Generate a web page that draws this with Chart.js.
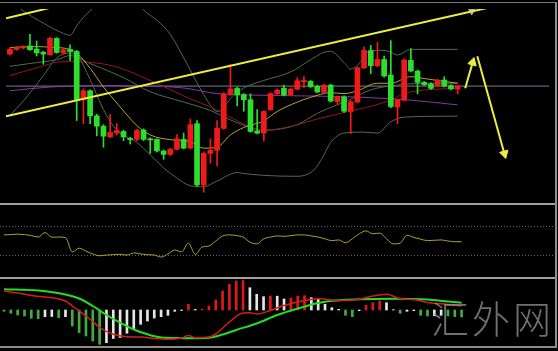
<!DOCTYPE html>
<html>
<head>
<meta charset="utf-8">
<script src="https://cdn.jsdelivr.net/npm/chart.js@4.4.1/dist/chart.umd.min.js"></script>
<style>
  body { margin: 0; background: #000; width: 558px; height: 351px; overflow: hidden; position: relative; }
  .pane { position: absolute; left: 0; width: 555px; }
  .rule { position: absolute; background: #a0a0a0; }
  #mark { position: absolute; left: 431px; top: 298px; font-size: 38px; line-height: 1;
          font-family: "Noto Sans CJK SC", sans-serif; font-weight: 300; color: rgba(160,160,160,0.7); letter-spacing: 3px; }
</style>
</head>
<body>
<div class="pane" style="top:3px;height:200px"><canvas id="priceChart"></canvas></div>
<div class="pane" style="top:205px;height:72px"><canvas id="rsiChart"></canvas></div>
<div class="pane" style="top:279px;height:67px"><canvas id="macdChart"></canvas></div>

<div class="rule" style="left:0;top:2px;width:556px;height:1px;background:#7a7a7a"></div>
<div class="rule" style="left:0;top:203px;width:556px;height:2px"></div>
<div class="rule" style="left:0;top:277px;width:556px;height:2px"></div>
<div class="rule" style="left:0;top:346px;width:556px;height:2px;background:#8c8c8c"></div>
<div class="rule" style="left:555px;top:2px;width:2px;height:346px;background:#8c8c8c"></div>
<div id="mark">汇外网</div>

<script>
// candles (one per bar, left to right)
const opens = [1249, 1254, 1255.5, 1257.7, 1254.3, 1251, 1248.3, 1265.7, 1250.3, 1254,
  1251.7, 1201, 1210, 1183.3, 1172.3, 1161, 1165, 1166.7, 1159.3, 1158.3,
  1168.3, 1159, 1158.3, 1146, 1142.3, 1147.7, 1158.3, 1149, 1175, 1110,
  1143.3, 1146.7, 1170, 1206.5, 1212.5, 1206, 1200.5, 1167.3, 1165, 1190,
  1206.7, 1212.7, 1205.8, 1211.7, 1219.5, 1220, 1214.8, 1208.5, 1216, 1198.3,
  1203.3, 1188, 1198, 1234.5, 1252.7, 1236.7, 1243.3, 1226.7, 1192.7, 1200,
  1242.3, 1231, 1219, 1217.3, 1215.5, 1221.5, 1215.5, 1211.7];
const closes = [1254.3, 1255.7, 1257, 1253.7, 1250.3, 1249, 1265.7, 1250.7, 1253.7, 1251.7,
  1200, 1210, 1183.3, 1172.3, 1161.7, 1165.7, 1167.7, 1161, 1158, 1167.7,
  1158.3, 1157.7, 1146, 1142.3, 1147.7, 1159, 1149, 1174, 1110, 1143.3,
  1146.7, 1170, 1206.7, 1212, 1205.5, 1200.5, 1166.7, 1165, 1188, 1207,
  1210.7, 1205.5, 1211.7, 1220.7, 1221, 1214.3, 1208.7, 1216, 1199, 1203.3,
  1188.3, 1198.3, 1234.5, 1253, 1236.7, 1243.3, 1225.7, 1193.3, 1200, 1242.7,
  1231, 1219, 1216.5, 1212.5, 1221.3, 1215, 1212, 1215];
const highs = [1256, 1257, 1258, 1270, 1263, 1252, 1267, 1266.5, 1255, 1259,
  1253, 1212, 1211, 1185, 1174, 1185, 1175, 1168, 1160.5, 1169,
  1169.5, 1160, 1159, 1147, 1149, 1163.3, 1165, 1180, 1178.3, 1145,
  1159, 1178.3, 1208, 1238, 1214, 1207, 1206.7, 1190, 1189, 1208,
  1212, 1216, 1213, 1224, 1225, 1221, 1216, 1217, 1217, 1204.5,
  1204.5, 1199.5, 1235.5, 1256.7, 1258.3, 1261.7, 1247, 1263.3, 1201, 1244,
  1255, 1232, 1220, 1218.5, 1222.5, 1225, 1216.5, 1216];
const lows = [1248, 1253, 1254.5, 1253, 1247, 1238.3, 1248, 1250, 1249, 1242,
  1178.3, 1175, 1175, 1162, 1150, 1160, 1163, 1157, 1153.3, 1157,
  1157, 1143.3, 1145, 1137, 1141, 1147, 1148, 1148, 1108.3, 1102,
  1133, 1130, 1169, 1205, 1194, 1188.3, 1166, 1164, 1156.7, 1189,
  1206, 1204.5, 1205, 1211, 1213.3, 1213.5, 1208, 1207.5, 1198, 1196,
  1187, 1164.5, 1197, 1233.5, 1228.3, 1235.5, 1224.5, 1192, 1175, 1199,
  1230, 1206.7, 1215.5, 1211.5, 1214.5, 1214, 1211, 1206.7];

// indicator lines as [bar, value]
const bbUpper = [[0, 1306], [2, 1295], [5, 1282], [8, 1271], [9, 1269], [10, 1279], [11, 1288], [13, 1302],
  [16, 1325], [19, 1305], [20, 1296], [22, 1285], [24, 1270], [26, 1245], [27, 1232], [29, 1206], [31, 1188],
  [32, 1192], [33, 1202], [35, 1213], [38, 1221], [42, 1230], [45, 1243], [47, 1251], [48, 1252], [50, 1240],
  [51, 1233], [52, 1237], [54, 1253], [56, 1253], [57, 1251], [58, 1248], [60, 1254], [67, 1254]];
const bbMiddle = [[0, 1236], [4, 1240], [7, 1243], [9, 1247.5], [12, 1239], [17, 1224], [21, 1209], [26, 1198],
  [30, 1189], [34, 1176], [38, 1168], [43, 1174], [46, 1186], [51, 1201], [54, 1211], [58, 1216], [62, 1218], [67, 1218]];
const bbLower = [[0, 1184], [2, 1199], [5, 1226], [7, 1245], [9, 1250], [10, 1248], [12, 1222], [14, 1190],
  [16, 1168], [19, 1155], [21, 1142], [23, 1128], [25, 1117], [27, 1109], [29, 1108], [31, 1114], [34, 1123],
  [35, 1122], [38, 1120], [43, 1119], [45, 1123], [46, 1130], [47, 1142], [48, 1155], [50, 1165], [53, 1166],
  [55, 1165], [57, 1177], [59, 1182], [67, 1183]];
const maFast = [[0, 1256], [3, 1257], [7, 1256], [9, 1254], [10, 1250], [12, 1234], [14, 1214], [16, 1197],
  [19, 1173], [21, 1163], [24, 1158], [27, 1156], [29, 1149], [31, 1150], [33, 1163], [35, 1171], [38, 1178],
  [40, 1188], [43, 1198], [45, 1203], [48, 1208], [50, 1207], [52, 1210], [55, 1218], [57, 1218], [60, 1225],
  [62, 1223], [64, 1221], [67, 1218]];
const maSlow = [[0, 1226], [4, 1234.5], [8, 1241], [13, 1239.5], [16, 1235.3], [21, 1221], [26, 1204.5],
  [31, 1189.5], [34, 1178], [37, 1169], [38, 1168], [42, 1172], [46, 1180], [51, 1188.5], [57, 1200],
  [59, 1207], [67, 1213]];
const maLong = [[0, 1210], [6, 1214], [14, 1215.5], [17, 1215.5], [26, 1213], [31, 1207], [40, 1205],
  [52, 1203.3], [60, 1200], [67, 1195]];
const priceLevel = 1215;

// drawn objects: trend lines, arrows, the little marker where the trend line leaves the pane
const trendMain = [[-0.59, 1183], [72.6, 1300]];
const trendTop = [[-0.59, 1287], [7.03, 1300]];
const arrowUp = [[68.13, 1212.7], [69.25, 1240.2]];
const arrowDown = [[69.94, 1246.7], [74.0, 1143.1]];
const topMarker = [[69.1, 1294.5]];

// RSI pane
const rsi = [58.5, 59, 59.5, 59, 57.5, 55.5, 61.7, 55.3, 55.5, 54.7,
  35, 40, 36, 32, 29.5, 30.5, 31, 31.5, 30.5, 33.5,
  32, 31, 30.5, 27.7, 32, 37.5, 35, 47, 31.5, 41.5,
  43, 50, 57, 58.5, 57.5, 55.5, 48.5, 46, 53, 55.5,
  57, 56.5, 57.5, 58.5, 58.5, 57, 55.5, 53, 50.5, 51.5,
  47.5, 53, 60, 64, 60, 61, 53, 46, 47, 58,
  55, 52.5, 50.5, 51, 51.5, 50, 49, 49];
const rsiLevels = [70, 30];

// MACD pane
const macdHist = [-1.3, -3.3, -5, -6, -8.3, -8.7, -6.7, -6.5, -7.7, -6.7,
  -16, -22.7, -26, -31, -34.3, -32.7, -28.5, -27.5, -23.3, -19.3,
  -14.3, -11, -8, -6.7, -5.3, -1.3, -0.5, 5.7, 0.6, 0.8,
  4, 10, 19, 25.7, 29, 29.5, 22.3, 15.7, 13.3, 14,
  13.8, 11, 12, 14, 14.3, 12.3, 10.7, 5.7, 2.3, 0.7,
  -5.3, -6.7, -0.7, 4.7, 7.3, 9, 7.3, 0.3, -3.3, -1.3,
  -0.7, -5.3, -6, -5.8, -5.3, -6, -6.7, -6.9];
const macdLine = [[0, 19], [2, 17], [4, 14.5], [9, 9], [10, 4], [11, -1], [12, -6], [13, -11.5], [14, -17.5],
  [16, -24.3], [18, -26.7], [20, -27], [22, -28.5], [24, -29.3], [26, -28], [27, -25.5], [28, -27.7], [30, -27],
  [31, -24], [33, -12], [35, -3], [36, -2.7], [37, -4], [39, -0.5], [41, 4.5], [44, 9.5], [46, 11.2], [49, 9.5],
  [52, 10.7], [54, 14], [56, 15.7], [58, 11.3], [60, 10.5], [62, 7.5], [65, 5.5], [67, 4]];
const signalLine = [[0, 20.7], [5, 19.5], [9, 15.5], [11, 11.5], [13, 4], [15, -5], [17, -12.7], [19, -19.5],
  [21, -24.3], [23, -27.5], [25, -28], [27, -28.3], [30, -27.7], [32, -24.5], [34, -20], [37, -13.5], [40, -5],
  [43, 1.5], [46, 7], [48, 9.2], [52, 10.7], [57, 11.3], [62, 10.5], [65, 8.5], [67, 7.3]];

// colours
const UP = '#f01a1a', DOWN = '#2be02b';
const YELLOW = '#eded3c';

// bar index range so that bar 0 sits 4px from the left edge, 6.83px apart
const X_MIN = -0.586, X_MAX = 80.67;

function pts(pairs) {
  return pairs.map(p => ({ x: p[0], y: p[1] }));
}

function flat(v) {
  return [{ x: X_MIN, y: v }, { x: X_MAX, y: v }];
}

function line(data, color, width, order) {
  return {
    type: 'line', data: data, borderColor: color, borderWidth: width,
    pointRadius: 0, cubicInterpolationMode: 'monotone', order: order
  };
}

function options(yMin, yMax) {
  return {
    responsive: true,
    maintainAspectRatio: false,
    animation: false,
    events: [],
    layout: { padding: 0 },
    plugins: { legend: { display: false }, tooltip: { enabled: false } },
    scales: {
      x: { type: 'linear', min: X_MIN, max: X_MAX, offset: false, display: false },
      y: { min: yMin, max: yMax, display: false }
    }
  };
}

function arrow(data, rotation) {
  return {
    type: 'line', data: pts(data), borderColor: YELLOW, borderWidth: 2,
    pointRadius: [0, 5], pointStyle: 'triangle', pointRotation: [0, rotation],
    pointBackgroundColor: YELLOW, pointBorderColor: YELLOW, pointBorderWidth: 1, order: 0
  };
}

// price pane
const candleColors = opens.map((o, i) => closes[i] > o ? UP : DOWN);

new Chart(document.getElementById('priceChart'), {
  type: 'bar',
  data: {
    datasets: [
      line(pts(trendMain), YELLOW, 2, 0),
      line(pts(trendTop), YELLOW, 2, 0),
      arrow(arrowUp, 16),
      arrow(arrowDown, 165),
      {
        type: 'line', data: pts(topMarker), showLine: false, pointStyle: 'triangle', pointRotation: 180,
        pointRadius: 3.5, pointBackgroundColor: '#9a9a9a', pointBorderColor: '#c0c0c0', pointBorderWidth: 1, order: 0
      },
      {
        type: 'bar', data: opens.map((o, i) => ({ x: i, y: [o, closes[i]] })),
        backgroundColor: candleColors, barThickness: 5, minBarLength: 1, grouped: false, order: 1
      },
      {
        type: 'bar', data: lows.map((l, i) => ({ x: i, y: [l, highs[i]] })),
        backgroundColor: candleColors, barThickness: 1, grouped: false, order: 2
      },
      line(pts(maFast), '#b9a233', 1, 3),
      line(pts(maSlow), '#8e1b1b', 1, 3),
      line(pts(maLong), '#8a36a6', 1, 3),
      line(pts(bbUpper), '#4b6b58', 1, 3),
      line(pts(bbMiddle), '#4b6b58', 1, 3),
      line(pts(bbLower), '#4b6b58', 1, 3),
      line(flat(priceLevel), '#7c7c8c', 1, 4)
    ]
  },
  options: options(1097, 1297)
});

// RSI pane
new Chart(document.getElementById('rsiChart'), {
  type: 'line',
  data: {
    datasets: [
      line(rsi.map((v, i) => ({ x: i, y: v })), '#aaa03a', 1, 0),
      Object.assign(line(flat(rsiLevels[0]), '#6e6e6e', 1, 1), { borderDash: [1, 2] }),
      Object.assign(line(flat(rsiLevels[1]), '#6e6e6e', 1, 1), { borderDash: [1, 2] })
    ]
  },
  options: options(0, 100)
});

// MACD pane: red/white above zero, green/white below, by direction
const histColors = macdHist.map((v, i) => {
  const prev = i > 0 ? macdHist[i - 1] : 0;
  if (v >= 0) return v > prev ? '#e01818' : '#e6e6e6';
  return v < prev ? '#3fae3f' : '#e6e6e6';
});

new Chart(document.getElementById('macdChart'), {
  type: 'bar',
  data: {
    datasets: [
      line(pts(macdLine), '#d81c1c', 1.5, 0),
      line(pts(signalLine), '#22dd22', 2, 1),
      {
        type: 'bar', data: macdHist.map((v, i) => ({ x: i, y: v })),
        backgroundColor: histColors, barThickness: 2, grouped: false, order: 2
      }
    ]
  },
  options: options(-36, 31)
});
</script>
</body>
</html>
